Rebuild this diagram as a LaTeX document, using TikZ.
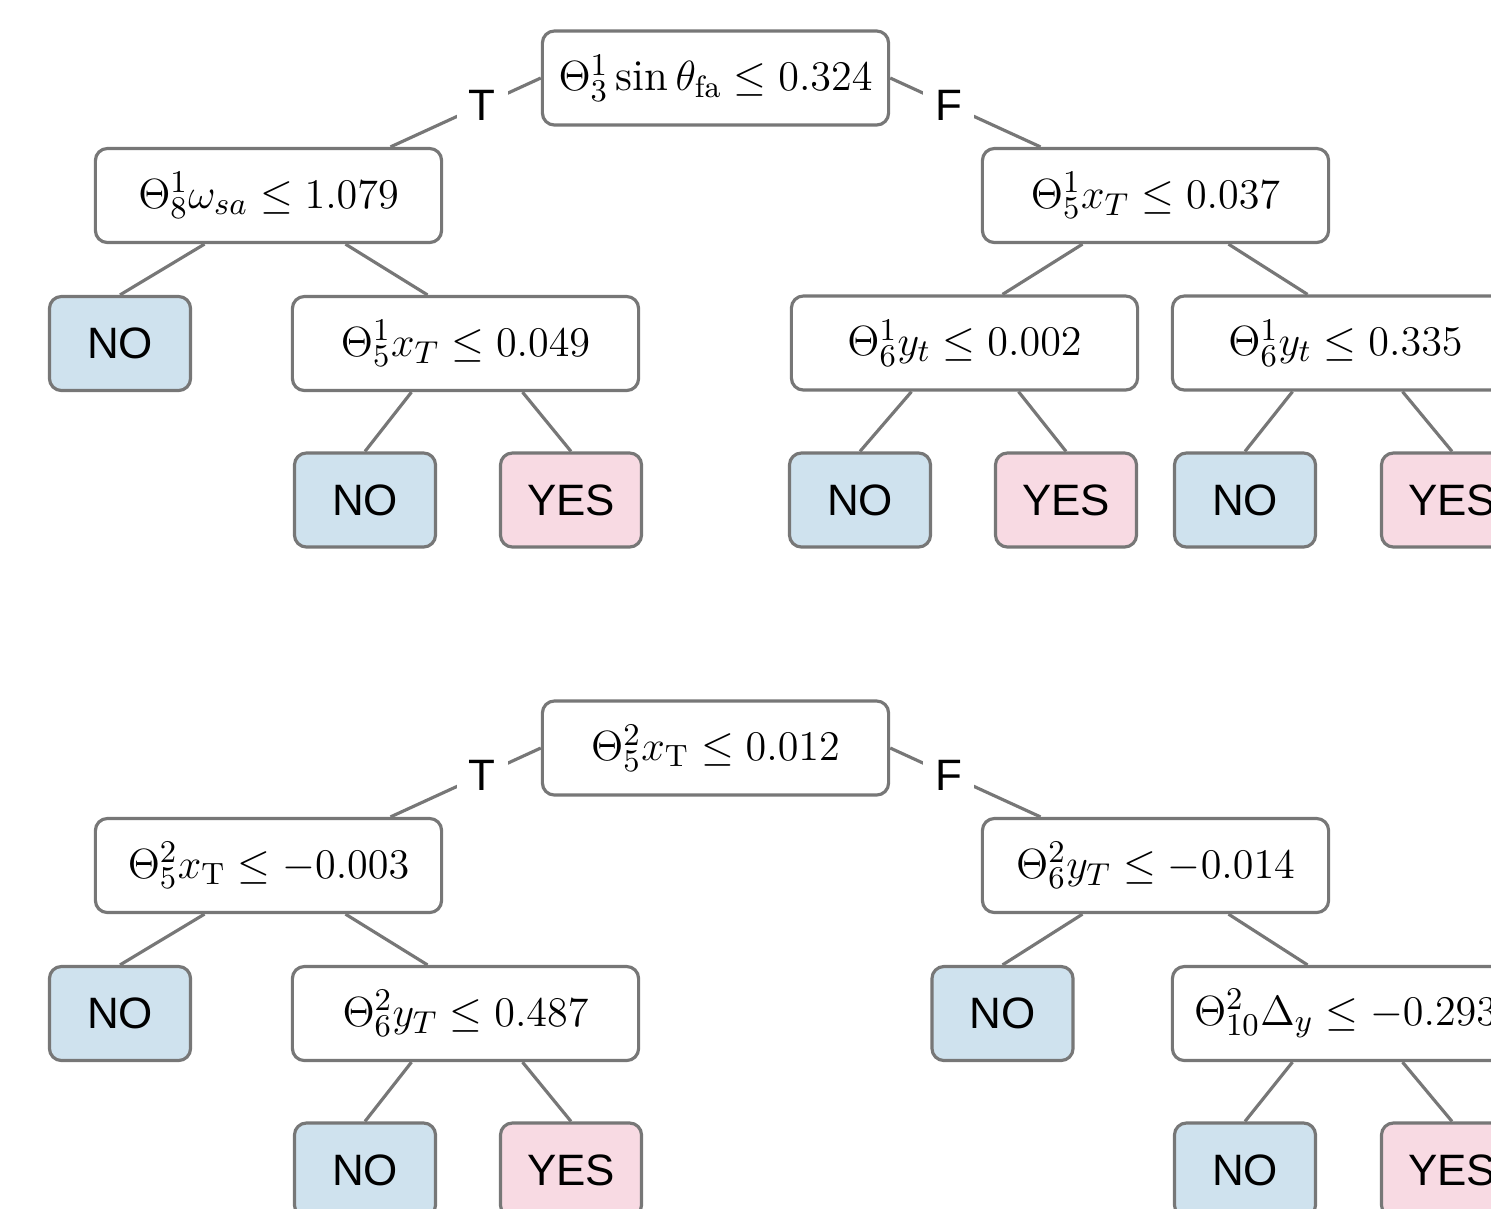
\documentclass[tikz,border=0pt]{standalone}
\usepackage{fontspec}
\newfontfamily\arial{Liberation Sans}
\usetikzlibrary{calc}
\definecolor{boxgray}{HTML}{777777}
\definecolor{noblue}{HTML}{CFE2EE}
\definecolor{yespink}{HTML}{F8DAE3}
\tikzset{
	cond/.style={draw=boxgray, line width=0.9pt, rounded corners=0.12cm, fill=white,
		minimum width=3.46cm, minimum height=0.94cm, inner sep=0pt,
		font=\fontsize{12.5}{15}\selectfont},
	leaf/.style={draw=boxgray, line width=0.9pt, rounded corners=0.12cm,
		minimum width=1.41cm, minimum height=0.94cm, inner sep=0pt,
		font=\arial\fontsize{12.5}{15}\selectfont},
	leafno/.style={leaf, fill=noblue},
	leafyes/.style={leaf, fill=yespink},
	edge/.style={draw=boxgray, line width=0.9pt},
	lbl/.style={fill=white, inner xsep=0.12cm, inner ysep=0.04cm,
		font=\arial\fontsize{12.5}{15}\selectfont}
}

\begin{document}
\begin{tikzpicture}[x=0.01cm, y=-0.01cm]
			%%%%% FRAME %%%%%
			\useasboundingbox (0,0) rectangle (1491,1208);
			\clip (0,0) rectangle (1491,1208);
			
			%%%%% TREE 1 %%%%%
			\node[cond] (rootA) at (715.5,78) {$\Theta_3^1\sin\theta_{\mathrm{fa}}\le 0.324$};
			\node[cond] (ltA) at (268.5,195.5) {$\Theta_8^1\omega_{sa}\le 1.079$};
			\node[cond] (rtA) at (1155.5,195.5) {$\Theta_5^1 x_T\le 0.037$};
			
			\node[leafno] (noA1) at (120,343.5) {NO};
			\node[cond] (cA) at (465.5,343.5) {$\Theta_5^1 x_T\le 0.049$};
			\node[cond] (rlA) at (964.5,343) {$\Theta_6^1 y_t\le 0.002$};
			\node[cond] (rrA) at (1345.5,343) {$\Theta_6^1 y_t\le 0.335$};
			
			\node[leafno] (noA2) at (365,500) {NO};
			\node[leafyes] (yesA2) at (571,500) {YES};
			\node[leafno] (noA3) at (860,500) {NO};
			\node[leafyes] (yesA3) at (1066,500) {YES};
			\node[leafno] (noA4) at (1245,500) {NO};
			\node[leafyes] (yesA4) at (1452,500) {YES};
			
			\draw[edge] (rootA.west) -- node[lbl, pos=0.39] {T} ($(ltA.north)+(122,0)$);
			\draw[edge] (rootA.east) -- node[lbl, pos=0.39] {F} ($(rtA.north)+(-115,0)$);
			\draw[edge] ($(ltA.south)+(-64,0)$) -- (noA1.north);
			\draw[edge] ($(ltA.south)+(77,0)$) -- ($(cA.north)+(-38,0)$);
			\draw[edge] ($(cA.south)+(-54,0)$) -- (noA2.north);
			\draw[edge] ($(cA.south)+(57,0)$) -- (yesA2.north);
			\draw[edge] ($(rtA.south)+(-73,0)$) -- ($(rlA.north)+(38,0)$);
			\draw[edge] ($(rtA.south)+(73,0)$) -- ($(rrA.north)+(-38,0)$);
			\draw[edge] ($(rlA.south)+(-53,0)$) -- (noA3.north);
			\draw[edge] ($(rlA.south)+(54,0)$) -- (yesA3.north);
			\draw[edge] ($(rrA.south)+(-53,0)$) -- (noA4.north);
			\draw[edge] ($(rrA.south)+(57,0)$) -- (yesA4.north);
			
			%%%%% TREE 2 %%%%%
			\node[cond] (rootB) at (715.5,748) {$\Theta_5^2 x_{\mathrm{T}}\le 0.012$};
			\node[cond] (ltB) at (268.5,865.5) {$\Theta_5^2 x_{\mathrm{T}}\le -0.003$};
			\node[cond] (rtB) at (1155.5,865.5) {$\Theta_6^2 y_T\le -0.014$};
			
			\node[leafno] (noB1) at (120,1013.5) {NO};
			\node[cond] (cB) at (465.5,1013.5) {$\Theta_6^2 y_T\le 0.487$};
			\node[leafno] (noB3) at (1002.5,1013.5) {NO};
			\node[cond] (rrB) at (1345.5,1013.5) {$\Theta_{10}^2\Delta_y\le -0.293$};
			
			\node[leafno] (noB2) at (365,1170) {NO};
			\node[leafyes] (yesB2) at (571,1170) {YES};
			\node[leafno] (noB4) at (1245,1170) {NO};
			\node[leafyes] (yesB4) at (1452,1170) {YES};
			
			\draw[edge] (rootB.west) -- node[lbl, pos=0.39] {T} ($(ltB.north)+(122,0)$);
			\draw[edge] (rootB.east) -- node[lbl, pos=0.39] {F} ($(rtB.north)+(-115,0)$);
			\draw[edge] ($(ltB.south)+(-64,0)$) -- (noB1.north);
			\draw[edge] ($(ltB.south)+(77,0)$) -- ($(cB.north)+(-38,0)$);
			\draw[edge] ($(cB.south)+(-54,0)$) -- (noB2.north);
			\draw[edge] ($(cB.south)+(57,0)$) -- (yesB2.north);
			\draw[edge] ($(rtB.south)+(-73,0)$) -- (noB3.north);
			\draw[edge] ($(rtB.south)+(73,0)$) -- ($(rrB.north)+(-38,0)$);
			\draw[edge] ($(rrB.south)+(-53,0)$) -- (noB4.north);
			\draw[edge] ($(rrB.south)+(57,0)$) -- (yesB4.north);
\end{tikzpicture}
\end{document}
